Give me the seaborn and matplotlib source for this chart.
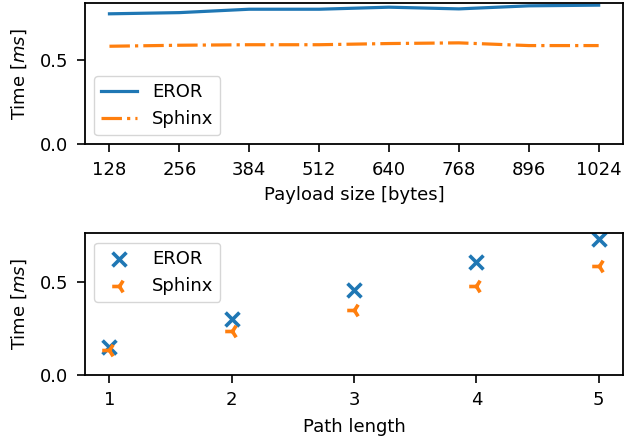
import matplotlib
matplotlib.use("Agg")
import matplotlib.pyplot as plt
import seaborn as sns

# payload sweep (top)
payload_sizes = [128, 256, 384, 512, 640, 768, 896, 1024]
eror_payload = [0.769, 0.776, 0.796, 0.796, 0.808, 0.798, 0.816, 0.820]
sphinx_payload = [0.578, 0.584, 0.587, 0.587, 0.594, 0.598, 0.582, 0.582]

# path length sweep (bottom)
path_lengths = [1, 2, 3, 4, 5]
eror_path = [0.152, 0.303, 0.455, 0.608, 0.731]
sphinx_path = [0.135, 0.235, 0.347, 0.478, 0.586]

plt.rcParams.update({
    'font.family': ['DejaVu Sans'],
    'font.size': 13,
    'axes.linewidth': 1.3,
    'xtick.major.size': 5.5,
    'ytick.major.size': 5.5,
    'xtick.major.width': 1.2,
    'ytick.major.width': 1.2,
    'xtick.major.pad': 6.5,
    'ytick.major.pad': 6.5,
    'legend.fontsize': 13,
})

c_eror, c_sphinx = sns.color_palette("tab10")[:2]

fig, (ax1, ax2) = plt.subplots(2, 1, figsize=(6.25, 4.42), dpi=100)
fig.subplots_adjust(left=0.136, right=0.997, top=0.993, bottom=0.152, hspace=0.63)

sns.lineplot(x=payload_sizes, y=eror_payload, ax=ax1, color=c_eror, lw=2.3, label='EROR')
sns.lineplot(x=payload_sizes, y=sphinx_payload, ax=ax1, color=c_sphinx, lw=2.3,
             linestyle='-.', label='Sphinx')
ax1.set_ylim(bottom=0)
ax1.set_xticks(payload_sizes)
ax1.set_yticks([0, 0.5])
ax1.set_xlabel('Payload size [bytes]', labelpad=5)
ax1.set_ylabel('Time [$ms$]', labelpad=8)
ax1.legend(loc='lower left')

sns.scatterplot(x=path_lengths, y=eror_path, ax=ax2, color=c_eror, marker='x',
                s=100, linewidth=2.6, label='EROR')
sns.scatterplot(x=path_lengths, y=sphinx_path, ax=ax2, color=c_sphinx, marker='3',
                s=110, linewidth=2.6, label='Sphinx')
ax2.set_ylim(bottom=0)
ax2.set_xticks(path_lengths)
ax2.set_yticks([0, 0.5])
ax2.set_xlabel('Path length', labelpad=6)
ax2.set_ylabel('Time [$ms$]', labelpad=8)
ax2.legend(loc='upper left')

fig.savefig('out.png')
